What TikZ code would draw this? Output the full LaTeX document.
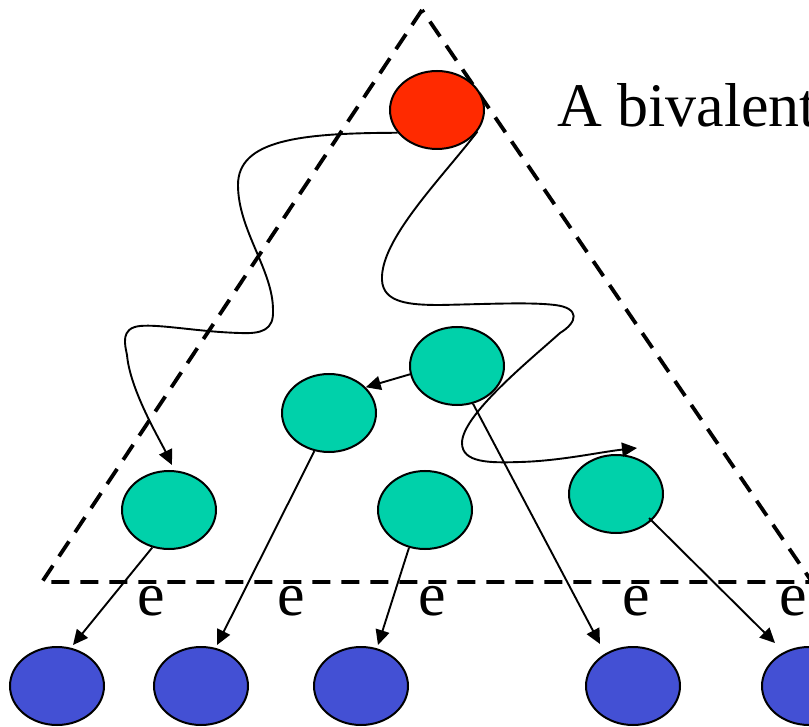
\documentclass[tikz,border=0pt]{standalone}
\usepackage{fontspec}
\setmainfont{Liberation Serif}
\usetikzlibrary{arrows.meta,calc,shapes.geometric}
\definecolor{nred}{RGB}{255,42,0}
\definecolor{nteal}{RGB}{0,209,170}
\definecolor{nblue}{RGB}{67,80,212}
\begin{document}
\begin{tikzpicture}[x=1pt,y=-1pt,
  state/.style={ellipse, draw=black, line width=2pt, minimum width=94pt, minimum height=78pt, inner sep=0pt},
  redst/.style={state, fill=nred},
  tealst/.style={state, fill=nteal},
  bluest/.style={state, fill=nblue},
  conn/.style={line width=1.9pt, -{Triangle[length=15pt,width=14pt]}},
  bound/.style={line width=3.8pt, dash pattern=on 18pt off 11pt},
  lbl/.style={font=\fontsize{62}{62}\selectfont, inner sep=0pt, anchor=base}]
\useasboundingbox (0,0) rectangle (809,727);
\clip (0,0) rectangle (809,727);
% boundary triangle
\coordinate (apex) at (422,10);
\coordinate (bl) at (42,582);
\coordinate (br) at (812,582);
\draw[bound] (apex) -- (bl) -- (br) -- cycle;
% states
\node[redst] (R) at (437,110) {};
\node[tealst] (T1) at (457,366) {};
\node[tealst] (T2) at (329,413) {};
\node[tealst] (T3) at (169,510) {};
\node[tealst] (T4) at (425,510) {};
\node[tealst] (T5) at (616,494) {};
\node[bluest] (B1) at (57,686) {};
\node[bluest] (B2) at (201,686) {};
\node[bluest] (B3) at (361,686) {};
\node[bluest] (B4) at (633,686) {};
\node[bluest] (B5) at (809,686) {};
% labels
\node[lbl, anchor=base west] (title) at (557,127) {A bivalent};
\node[lbl] (e1) at (151,615) {e};
\node[lbl] (e2) at (291,615) {e};
\node[lbl] (e3) at (432,615) {e};
\node[lbl] (e4) at (636,615) {e};
\node[lbl] (e5) at (793,615) {e};
% arrow end points
\coordinate (t3in) at ($(T3.north)+(3,-5)$);
\coordinate (t5in) at ($(T5.north)+(21,-6)$);
\coordinate (b1in) at ($(B1.center)+(16,-41)$);
\coordinate (b2in) at ($(B2.center)+(16,-41)$);
\coordinate (b3in) at ($(B3.center)+(17,-41)$);
\coordinate (b4in) at ($(B4.center)+(-33,-42)$);
\coordinate (b5in) at ($(B5.center)+(-34,-43)$);
\coordinate (t5out) at ($(T5.center)+(33,24)$);
% wiggly paths
\draw[conn] (R.210) .. controls (300,133) and (238,140) .. (238,185)
  .. controls (238,230) and (273,270) .. (273,310)
  .. controls (274,330) and (262,334) .. (240,333)
  .. controls (200,332) and (160,324) .. (140,326)
  .. controls (120,328) and (125,345) .. (127,355)
  .. controls (130,390) and (160,440) .. (t3in);
\draw[conn] (R.-28) .. controls (440,180) and (380,240) .. (382,280)
  .. controls (383,303) and (410,305) .. (440,305)
  .. controls (490,304) and (530,302) .. (555,305)
  .. controls (580,308) and (578,322) .. (560,333)
  .. controls (530,360) and (462,415) .. (462,443)
  .. controls (462,463) and (490,463) .. (520,462)
  .. controls (560,461) and (600,452) .. (t5in);
% straight arrows
\draw[conn] (T1.190) -- (T2.35);
\draw[conn] (T3.-114) -- (b1in);
\draw[conn] (T2.-111) -- (b2in);
\draw[conn] (T4.-113) -- (b3in);
\draw[conn] (T1.-67) -- (b4in);
\draw[conn] (t5out) -- (b5in);
\end{tikzpicture}
\end{document}
